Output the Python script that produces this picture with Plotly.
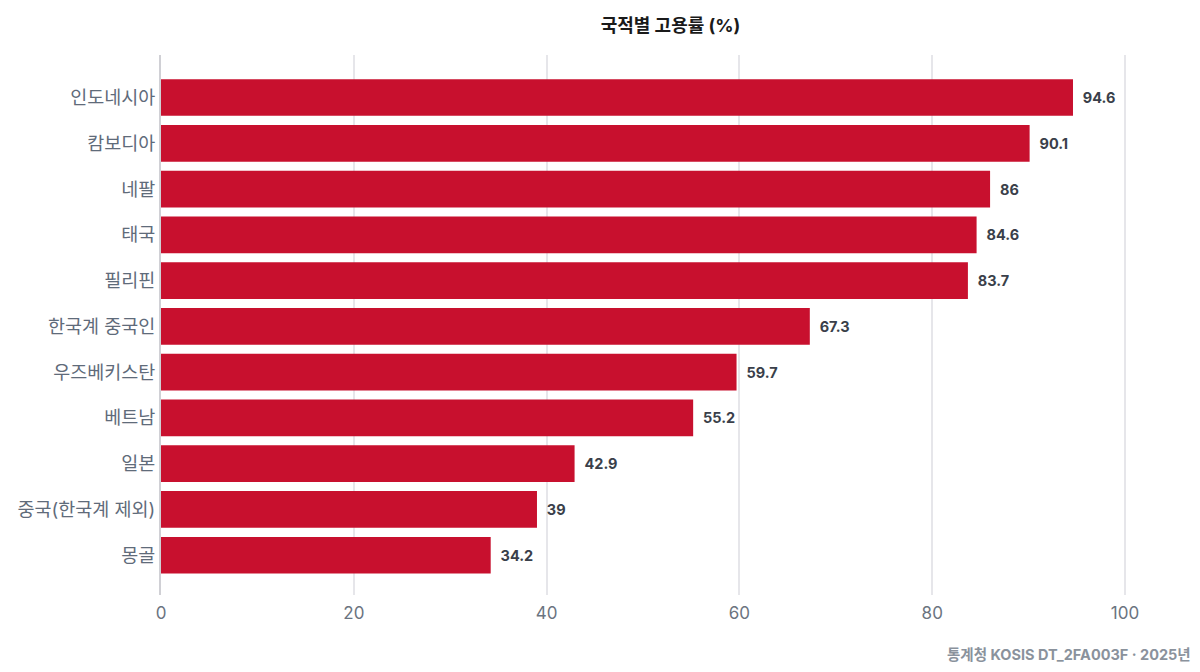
import plotly.graph_objects as go

# 국적별 고용률 (%) - 위에서부터 순서
countries = ["인도네시아", "캄보디아", "네팔", "태국", "필리핀", "한국계 중국인",
             "우즈베키스탄", "베트남", "일본", "중국(한국계 제외)", "몽골"]
rates = [94.6, 90.1, 86, 84.6, 83.7, 67.3, 59.7, 55.2, 42.9, 39, 34.2]

font_main = "Inter, Noto Sans CJK KR"

# bottom-up order for the y axis
ys = countries[::-1]
xs = rates[::-1]

fig = go.Figure(go.Bar(
    x=xs, y=ys, orientation="h",
    marker=dict(color="#c8102e", line=dict(width=0)),
    text=["\u00a0\u00a0" + f"{v:g}" for v in xs],
    textposition="outside",
    cliponaxis=False,
    textfont=dict(family=font_main, size=14.5, color="#3a3f4a", weight="bold"),
    hoverinfo="x+y",
))

fig.update_layout(
    width=1200, height=672,
    paper_bgcolor="white", plot_bgcolor="white",
    margin=dict(l=153, r=28, t=47, b=85),
    bargap=0.2,
    showlegend=False,
    title=dict(text="<b>국적별 고용률 (%)</b>", x=0.5, xref="paper",
               y=0.973, yanchor="middle",
               font=dict(family=font_main, size=18, color="#1a1a1a")),
    font=dict(family=font_main),
)

fig.update_xaxes(
    range=[0, 105.7], tickvals=[0, 20, 40, 60, 80, 100],
    showgrid=True, gridcolor="#e6e6ea", gridwidth=2,
    zeroline=False, showline=False, automargin=False,
    tickfont=dict(family=font_main, size=17, color="#6b7480"),
    ticks="", ticklabelstandoff=6,
)
fig.update_yaxes(
    range=[-0.87, 10.93],
    showgrid=False, zeroline=False, automargin=False,
    showline=True, linecolor="#d0d0d5", linewidth=2,
    tickfont=dict(family=font_main, size=18.5, color="#5f6b7a"),
    ticks="", ticklabelstandoff=0,
)

fig.add_annotation(
    text="<b>통계청 KOSIS DT_2FA003F · 2025년</b>",
    xref="paper", yref="paper", x=1.0128, y=-0.111,
    xanchor="right", yanchor="middle", showarrow=False,
    font=dict(family=font_main, size=14.5, color="#8a929c"),
)

fig.write_html("out.html")
